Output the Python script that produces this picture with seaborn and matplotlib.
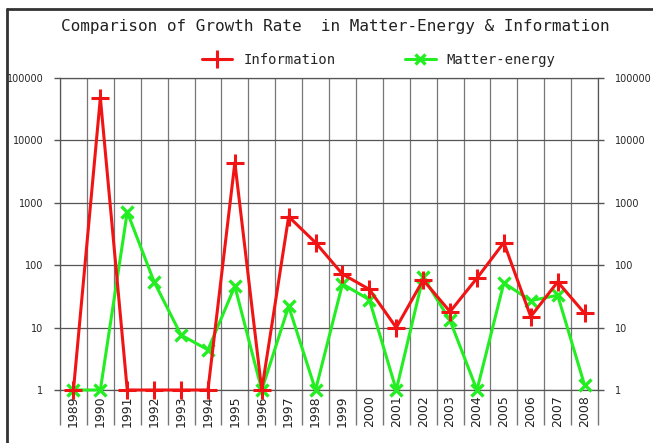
import pandas as pd
import numpy as np
import matplotlib
matplotlib.use("Agg")
import matplotlib.pyplot as plt
import seaborn as sns
from matplotlib.lines import Line2D
from matplotlib.ticker import FixedLocator, NullFormatter

# Dati
years = [str(y) for y in range(1989, 2009)]
information = [1, 48000, 1, 1, 1, 1, 4400, 1, 600, 230,
               72, 41, 10, 58, 18, 62, 230, 15, 54, 17]
matter_energy = [1, 1, 710, 54, 7.6, 4.4, 46, 1, 22, 1,
                 50, 28, 1, 65, 13, 1, 52, 27, 33, 1.2]

red = "#f01414"
green = "#22ee22"

df = pd.DataFrame({"year": years, "Information": information,
                   "Matter-energy": matter_energy})

sns.set_style("white")
plt.rcParams["font.family"] = ["DejaVu Sans"]

fig = plt.figure(figsize=(6.53, 4.43), dpi=100)
ax = fig.add_axes([60 / 653, 53 / 443, 538 / 653, 312 / 443])

sns.lineplot(data=df, x="year", y="Information", ax=ax, color=red, lw=2.2,
             marker="+", markersize=13, markeredgewidth=2.2,
             markeredgecolor=red, sort=False, clip_on=False, zorder=4)
sns.lineplot(data=df, x="year", y="Matter-energy", ax=ax, color=green, lw=2.2,
             marker="x", markersize=9, markeredgewidth=2.4,
             markeredgecolor=green, sort=False, clip_on=False, zorder=3)

ax.set_yscale("log")
ax.set_ylim(1, 100000)
ax.set_xlim(-0.5, len(years) - 0.5)
ax.set_xlabel("")
ax.set_ylabel("")

# assi Y a sinistra e a destra
yt = [1, 10, 100, 1000, 10000, 100000]
ax.yaxis.set_major_locator(FixedLocator(yt))
ax.yaxis.set_minor_locator(FixedLocator([]))
ax.set_yticklabels([str(v) for v in yt])
ax.tick_params(axis="y", which="major", left=True, right=True, labelleft=True,
               labelright=True, length=4, width=1, color="#555555",
               labelsize=7, pad=8)
for lab in ax.get_yticklabels():
    lab.set_family(["Liberation Sans Narrow", "DejaVu Sans"])

# asse X: etichette al centro, linee ai confini
ax.set_xticks(range(len(years)))
ax.set_xticklabels(years, rotation=90, fontsize=9, color="#222222")
ax.xaxis.set_minor_locator(FixedLocator(np.arange(-0.5, len(years), 1)))
ax.xaxis.set_minor_formatter(NullFormatter())
ax.tick_params(axis="x", which="major", length=0, pad=4)
ax.tick_params(axis="x", which="minor", bottom=True, length=25, width=1,
               color="#777777")

ax.grid(True, axis="y", which="major", color="#555555", lw=0.9)
ax.grid(True, axis="x", which="minor", color="#777777", lw=0.9)
ax.set_axisbelow(True)
for s in ax.spines.values():
    s.set_color("#555555")
    s.set_linewidth(0.9)

fig.text(0.513, 0.94, "Comparison of Growth Rate  in Matter-Energy & Information",
         ha="center", va="center", fontsize=11.5, family="DejaVu Sans Mono",
         color="#222222")

handles = [Line2D([], [], color=red, lw=2.2, marker="+", markersize=13,
                  markeredgewidth=2.2),
           Line2D([], [], color=green, lw=2.2, marker="x", markersize=7,
                  markeredgewidth=2.4)]
fig.legend(handles, ["Information", "Matter-energy"], loc="center",
           bbox_to_anchor=(0.58, 0.864), ncol=2, frameon=False,
           prop={"family": "DejaVu Sans Mono", "size": 10},
           handlelength=2.2, columnspacing=5, handletextpad=0.8)

# cornice esterna
fig.add_artist(Line2D([7 / 653, 7 / 653], [0, 1 - 9 / 443],
                      transform=fig.transFigure, color="#333333", lw=2))
fig.add_artist(Line2D([7 / 653, 1], [1 - 9 / 443, 1 - 9 / 443],
                      transform=fig.transFigure, color="#333333", lw=2))

fig.savefig("out.png", dpi=100)
